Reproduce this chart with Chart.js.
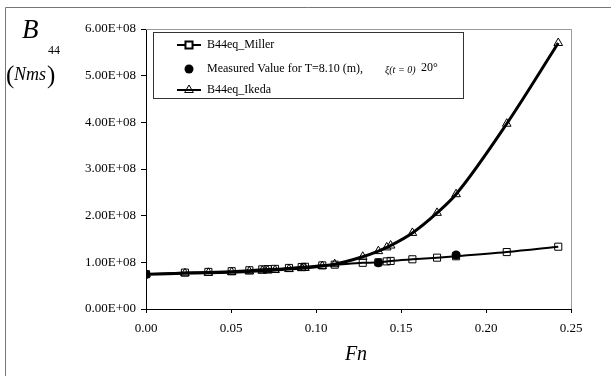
<!DOCTYPE html>
<html><head><meta charset="utf-8">
<script src="https://cdn.jsdelivr.net/npm/chart.js@4/dist/chart.umd.min.js"></script>
<style>html,body{margin:0;padding:0;background:#fff}canvas{display:block}</style>
</head><body>
<canvas id="c" width="611" height="376"></canvas>
<script>
// ---- data ----
const fnValues = [0, 0.0229, 0.0367, 0.0504, 0.0608, 0.0684, 0.0716, 0.0759, 0.0841, 0.0916, 0.0935, 0.1037, 0.111, 0.1275, 0.1367, 0.1416, 0.1439, 0.1567, 0.1712, 0.1824, 0.2122, 0.2425];
const millerB44 = [0.745e8, 0.78e8, 0.795e8, 0.81e8, 0.83e8, 0.85e8, 0.855e8, 0.86e8, 0.88e8, 0.90e8, 0.905e8, 0.935e8, 0.95e8, 0.99e8, 1.00e8, 1.02e8, 1.03e8, 1.065e8, 1.10e8, 1.13e8, 1.22e8, 1.335e8];
const ikedaB44 = [0.745e8, 0.765e8, 0.775e8, 0.79e8, 0.805e8, 0.82e8, 0.825e8, 0.835e8, 0.855e8, 0.875e8, 0.88e8, 0.92e8, 0.96e8, 1.12e8, 1.24e8, 1.32e8, 1.36e8, 1.63e8, 2.06e8, 2.46e8, 3.97e8, 5.70e8];
const measuredFn = [0, 0.1367, 0.1824];
const measuredB44 = [0.745e8, 0.99e8, 1.157e8];
const xTickValues = [0, 0.05, 0.10, 0.15, 0.20, 0.25];
const yTickValues = [0, 1e8, 2e8, 3e8, 4e8, 5e8, 6e8];
const seriesLabels = ['B44eq_Miller', 'Measured Value for T=8.10 (m),', 'B44eq_Ikeda'];

const toPts = (xs, ys) => xs.map((x, i) => ({x: x, y: ys[i]}));
const fmtY = v => {
  if (v === 0) return '0.00E+00';
  const e = Math.floor(Math.log10(Math.abs(v)) + 1e-9);
  const m = v / Math.pow(10, e);
  return m.toFixed(2) + 'E+' + String(e).padStart(2, '0');
};
const SERIF = "'Liberation Serif', 'DejaVu Serif', serif";

const overlay = {
  id: 'overlay',
  afterDraw(chart) {
    const ctx = chart.ctx, a = chart.chartArea;
    ctx.save();
    // outer chart border (top & left visible)
    ctx.strokeStyle = '#777'; ctx.lineWidth = 1;
    ctx.beginPath(); ctx.moveTo(5.5, 376); ctx.lineTo(5.5, 7.5); ctx.lineTo(611, 7.5); ctx.stroke();
    // plot area top & right border
    ctx.strokeStyle = '#999';
    ctx.beginPath(); ctx.moveTo(a.left, a.top + 0.5); ctx.lineTo(a.right + 0.5, a.top + 0.5); ctx.lineTo(a.right + 0.5, a.bottom); ctx.stroke();

    // y axis title
    ctx.fillStyle = '#000'; ctx.textBaseline = 'alphabetic'; ctx.textAlign = 'left';
    ctx.font = 'italic 27px ' + SERIF; ctx.fillText('B', 22, 38);
    ctx.font = '12px ' + SERIF; ctx.fillText('44', 48, 54);
    ctx.font = '25px ' + SERIF; ctx.fillText('(', 6, 83);
    ctx.font = 'italic 18px ' + SERIF; ctx.fillText('Nms', 14, 80);
    ctx.font = '25px ' + SERIF; ctx.fillText(')', 47, 83);
    // x axis title
    ctx.textAlign = 'center';
    ctx.font = 'italic 20px ' + SERIF; ctx.fillText('Fn', 356, 360);

    // legend
    const lx = 153, ly = 32, lw = 310, lh = 66;
    ctx.fillStyle = '#fff'; ctx.fillRect(lx, ly, lw, lh);
    ctx.strokeStyle = '#333'; ctx.lineWidth = 1; ctx.strokeRect(lx + 0.5, ly + 0.5, lw, lh);
    const rows = [45, 69, 90];
    const ds = chart.data.datasets;
    const mx = 189;
    ctx.strokeStyle = '#000'; ctx.lineWidth = 2;
    ctx.beginPath(); ctx.moveTo(177, rows[0]); ctx.lineTo(201, rows[0]); ctx.stroke();
    Chart.helpers.drawPoint(ctx, {pointStyle: 'rect', radius: 5, borderWidth: 1, rotation: 0}, mx, rows[0]);
    ctx.lineWidth = 2;
    ctx.beginPath(); ctx.moveTo(177, rows[2]); ctx.lineTo(201, rows[2]); ctx.stroke();
    ctx.strokeStyle = '#000'; ctx.fillStyle = 'rgba(0,0,0,0)'; ctx.lineWidth = 1;
    Chart.helpers.drawPoint(ctx, {pointStyle: 'triangle', radius: 5, borderWidth: 1, rotation: 0}, mx, rows[2]);
    ctx.fillStyle = '#000';
    ctx.beginPath(); ctx.arc(mx, rows[1], 4.5, 0, Math.PI * 2); ctx.fill();

    ctx.fillStyle = '#000'; ctx.textAlign = 'left'; ctx.textBaseline = 'middle';
    ctx.font = '12px ' + SERIF;
    ctx.fillText(ds[1].label, 207, rows[0]);
    ctx.fillText(ds[0].label, 207, rows[1]);
    ctx.fillText(ds[2].label, 207, rows[2]);
    ctx.font = 'italic 10px ' + SERIF;
    ctx.fillText('\u03BE(t = 0)', 385, rows[1] + 1);
    ctx.font = '12px ' + SERIF;
    ctx.fillText('20\u00B0', 421, rows[1] - 1);
    ctx.restore();
  }
};

new Chart(document.getElementById('c'), {
  type: 'scatter',
  data: {
    datasets: [
      {
        label: seriesLabels[1], data: toPts(measuredFn, measuredB44), order: 0,
        showLine: false, pointStyle: 'circle', pointRadius: 4.5,
        backgroundColor: '#000', borderColor: '#000', pointBorderWidth: 0
      },
      {
        label: seriesLabels[0], data: toPts(fnValues, millerB44), order: 1,
        showLine: true, borderColor: '#000', borderWidth: 2, cubicInterpolationMode: 'monotone',
        pointStyle: 'rect', pointRadius: 5, pointBorderWidth: 1,
        pointBackgroundColor: 'rgba(0,0,0,0)', pointBorderColor: '#000'
      },
      {
        label: seriesLabels[2], data: toPts(fnValues, ikedaB44), order: 2,
        showLine: true, borderColor: '#000', borderWidth: 3, cubicInterpolationMode: 'monotone',
        pointStyle: 'triangle', pointRadius: 5, pointBorderWidth: 1,
        pointBackgroundColor: 'rgba(0,0,0,0)', pointBorderColor: '#000'
      }
    ]
  },
  options: {
    responsive: false, animation: false, devicePixelRatio: 1,
    layout: {padding: {left: 0, right: 40, top: 29, bottom: 0}},
    plugins: {legend: {display: false}, tooltip: {enabled: false}},
    scales: {
      x: {
        type: 'linear', min: 0, max: 0.25,
        afterBuildTicks: s => { s.ticks = xTickValues.map(v => ({value: v})); },
        afterFit: s => { s.height = 67; },
        grid: {display: true, drawOnChartArea: false, drawTicks: true, tickLength: 4, color: '#000'},
        border: {display: true, color: '#000', width: 1},
        ticks: {color: '#000', font: {family: SERIF, size: 13}, padding: 8, maxRotation: 0,
                callback: v => Number(v).toFixed(2)}
      },
      y: {
        type: 'linear', min: 0, max: 6e8,
        afterBuildTicks: s => { s.ticks = yTickValues.map(v => ({value: v})); },
        afterFit: s => { s.width = 146; },
        grid: {display: true, drawOnChartArea: false, drawTicks: true, tickLength: 5, color: '#000'},
        border: {display: true, color: '#000', width: 1},
        ticks: {color: '#000', font: {family: SERIF, size: 13}, padding: 5, callback: v => fmtY(v)}
      }
    }
  },
  plugins: [overlay]
});
</script>
</body></html>
